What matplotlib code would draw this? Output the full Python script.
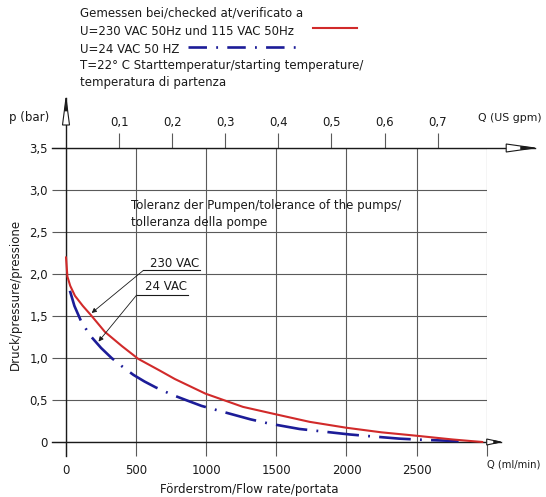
import matplotlib
matplotlib.use("Agg")
import matplotlib.pyplot as plt
from matplotlib.lines import Line2D
from matplotlib.patches import Polygon

plt.rcParams['font.family'] = ['DejaVu Sans']

# ---------------- data ----------------
flow_230 = [0, 10, 30, 64, 120, 178, 278, 400, 515, 669, 776, 994, 1262, 1495, 1737,
            1998, 2250, 2496, 2757, 2897, 2970]
pres_230 = [2.20, 1.97, 1.86, 1.74, 1.62, 1.51, 1.31, 1.14, 0.99, 0.85, 0.75, 0.576,
            0.418, 0.33, 0.24, 0.17, 0.115, 0.075, 0.03, 0.01, 0.0]

flow_24 = [28, 60, 107, 171, 250, 325, 400, 480, 560, 640, 760, 870, 966, 1096,
           1315, 1447, 1665, 1803, 2021, 2159, 2377, 2520, 2721, 2800]
pres_24 = [1.80, 1.62, 1.44, 1.27, 1.12, 1.00, 0.90, 0.80, 0.72, 0.65, 0.56,
           0.49, 0.43, 0.37, 0.27, 0.22, 0.155, 0.13, 0.09, 0.07, 0.04, 0.028,
           0.015, 0.01]

x_ticks = [0, 500, 1000, 1500, 2000, 2500, 3000]
x_ticklabels = ['0', '500', '1000', '1500', '2000', '2500', '']
y_ticks = [0, 0.5, 1.0, 1.5, 2.0, 2.5, 3.0, 3.5]
y_ticklabels = ['0', '0,5', '1,0', '1,5', '2,0', '2,5', '3,0', '3,5']
gpm_ticks = [0.1, 0.2, 0.3, 0.4, 0.5, 0.6, 0.7]
gpm_ticklabels = ['0,1', '0,2', '0,3', '0,4', '0,5', '0,6', '0,7']
ML_PER_GPM = 3785.41

header_lines = ['Gemessen bei/checked at/verificato a',
                'U=230 VAC 50Hz und 115 VAC 50Hz',
                'U=24 VAC 50 HZ',
                'T=22° C Starttemperatur/starting temperature/',
                'temperatura di partenza']

# ---------------- layout ----------------
W, H = 546, 497
fig = plt.figure(figsize=(W / 100, H / 100), dpi=100)
L, R, B, T = 66, 486.7, 442, 148
ax = fig.add_axes([L / W, 1 - B / H, (R - L) / W, (B - T) / H])
ax.set_xlim(0, 3000)
ax.set_ylim(0, 3.5)
for s in ax.spines.values():
    s.set_visible(False)
dxp = 3000 / (R - L)
dyp = 3.5 / (B - T)

FS = 8.5
TXT = '#1a1a1a'
GRID = '#5a5a5a'
AX = '#1a1a1a'
RED = '#d12a2a'
BLUE = '#1c1c98'

ax.set_xticks(x_ticks, x_ticklabels)
ax.set_yticks(y_ticks, y_ticklabels)
ax.tick_params(axis='x', length=10, width=0.8, color=GRID, direction='out',
               pad=6, labelsize=FS, labelcolor=TXT)
ax.tick_params(axis='y', length=10, width=0.8, color=GRID, direction='out',
               pad=3, labelsize=FS, labelcolor=TXT)
ax.grid(True, color=GRID, lw=0.8)

secax = ax.secondary_xaxis('top', functions=(lambda q: q / ML_PER_GPM,
                                             lambda g: g * ML_PER_GPM))
secax.set_xticks(gpm_ticks, gpm_ticklabels)
secax.tick_params(length=11, width=0.8, color=GRID, direction='out', pad=3,
                  labelsize=FS, labelcolor=TXT)
secax.spines['top'].set_visible(False)

# axis lines
tip_y = 3.5 + 50 * dyp
ax.plot([0, 0], [-14 * dyp, tip_y], color=AX, lw=1.0, clip_on=False, zorder=3)
ax.plot([-14 * dxp, 3000 + 48 * dxp], [3.5, 3.5], color=AX, lw=1.0,
        clip_on=False, zorder=3)
ax.plot([-14 * dxp, 3000 + 14 * dxp], [0, 0], color=AX, lw=1.0,
        clip_on=False, zorder=3)


def arrow(pts_open, pts_tip):
    ax.add_patch(Polygon(pts_open, closed=True, facecolor='white',
                         edgecolor=AX, lw=0.8, clip_on=False, zorder=4))
    ax.add_patch(Polygon(pts_tip, closed=True, facecolor=AX, edgecolor=AX,
                         lw=0.5, clip_on=False, zorder=5))


# top arrow of y axis
base = 3.5 + 23 * dyp
arrow([(-3.5 * dxp, base), (3.5 * dxp, base), (0, tip_y)],
      [(-1.3 * dxp, tip_y - 13 * dyp), (1.3 * dxp, tip_y - 13 * dyp), (0, tip_y)])
# right arrow at 3.5
xb, xt = 3000 + 19.5 * dxp, 3000 + 48 * dxp
arrow([(xb, 3.5 - 4 * dyp), (xb, 3.5 + 4 * dyp), (xt, 3.5)],
      [(xt - 14 * dxp, 3.5 - 1.6 * dyp), (xt - 14 * dxp, 3.5 + 1.6 * dyp), (xt, 3.5)])
# right arrow at 0
xb, xt = 3000, 3000 + 14 * dxp
arrow([(xb, -3 * dyp), (xb, 3 * dyp), (xt, 0)],
      [(xt - 7 * dxp, -1.5 * dyp), (xt - 7 * dxp, 1.5 * dyp), (xt, 0)])

# curves
ax.plot(flow_230, pres_230, color=RED, lw=1.5, zorder=6, clip_on=False,
        solid_capstyle='round', solid_joinstyle='round')
ax.plot(flow_24, pres_24, color=BLUE, lw=1.9, zorder=5, clip_on=False,
        dashes=(12, 3.5, 0.7, 3.5))

# callouts
def callout(text, tx, ty, ux0, ux1, uy, px, py):
    ax.plot([ux0, ux1], [uy, uy], color=AX, lw=0.8, zorder=7)
    ax.text(tx, ty, text, ha='left', va='center', fontsize=FS, color=TXT)
    ax.annotate('', xy=(px, py), xytext=(ux0, uy),
                arrowprops=dict(arrowstyle='-|>', color=AX, lw=0.6,
                                mutation_scale=7, shrinkA=0, shrinkB=0),
                zorder=8)


callout('230 VAC', 599, 2.127, 551, 955, 2.042, 183, 1.536)
callout('24 VAC', 563, 1.849, 504, 872, 1.750, 232, 1.196)

ax.text(461, 2.821, 'Toleranz der Pumpen/tolerance of the pumps/',
        ha='left', va='center', fontsize=FS, color=TXT)
ax.text(461, 2.619, 'tolleranza della pompe',
        ha='left', va='center', fontsize=FS, color=TXT)

# header
for txt, py in zip(header_lines, [13.3, 31.7, 49.3, 66, 82.7]):
    fig.text(80 / W, 1 - py / H, txt, ha='left', va='center', fontsize=FS,
             color=TXT)
fig.add_artist(Line2D([313 / W, 357 / W], [1 - 28.3 / H, 1 - 28.3 / H],
                      color=RED, lw=1.5))
fig.add_artist(Line2D([188 / W, 300 / W], [1 - 46.7 / H, 1 - 46.7 / H],
                      color=BLUE, lw=1.9, dashes=(7, 3.5, 0.7, 3.5)))

# axis labels
fig.text(9 / W, 1 - 118 / H, 'p (bar)', ha='left', va='center', fontsize=FS,
         color=TXT)
fig.text(478 / W, 1 - 118 / H, 'Q (US gpm)', ha='left', va='center',
         fontsize=7.8, color=TXT)
fig.text(487 / W, 1 - 464.5 / H, 'Q (ml/min)', ha='left', va='center',
         fontsize=7.2, color=TXT)
fig.text(249 / W, 1 - 490 / H, 'Förderstrom/Flow rate/portata', ha='center',
         va='center', fontsize=FS, color=TXT)
fig.text(15 / W, 1 - 294 / H, 'Druck/pressure/pressione', ha='center',
         va='center', rotation=90, fontsize=FS, color=TXT)

fig.savefig('out.png', dpi=100, facecolor='white')
